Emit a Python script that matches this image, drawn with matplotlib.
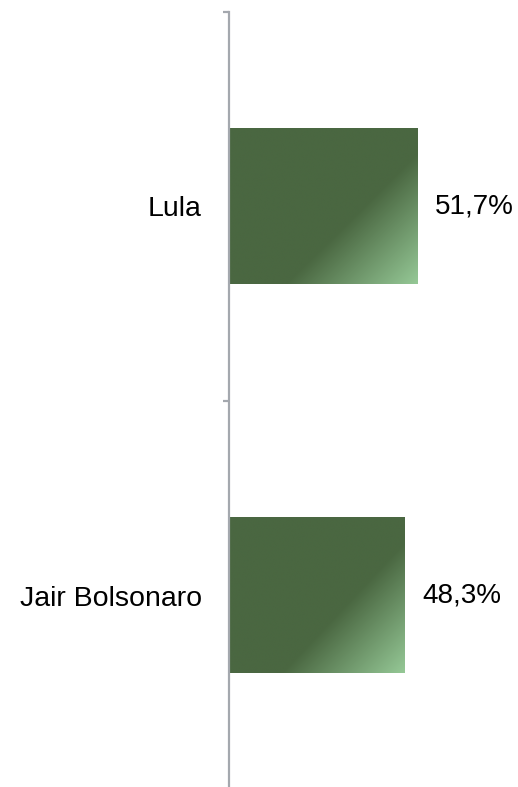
import numpy as np
import matplotlib
matplotlib.use('Agg')
import matplotlib.pyplot as plt
from matplotlib.colors import LinearSegmentedColormap

plt.rcParams['font.family'] = ['Liberation Sans', 'DejaVu Sans']

# data
candidates = ['Lula', 'Jair Bolsonaro']
votes = [51.7, 48.3]
value_labels = ['51,7%', '48,3%']

DARK = '#4a6741'
LIGHT = '#95c896'
AXIS_COL = '#a4a8ae'

fig = plt.figure(figsize=(5.18, 7.87), dpi=100)
ax = fig.add_axes([229 / 518, -3 / 787, 284 / 518, 778 / 787])

ypos = np.arange(len(candidates))
bar_h = 0.40

# diagonal gradient: flat dark green, then fades to light green at bottom-right
cmap = LinearSegmentedColormap.from_list('g', [(0, DARK), (0.62, DARK), (1, LIGHT)])
nx, ny = 300, 250
fx = np.linspace(0, 1, nx)[None, :]
fy = np.linspace(0, 1, ny)[:, None]
grad = (1.2 * fx + fy) / 2.2

for y, v, lab in zip(ypos, votes, value_labels):
    ax.imshow(grad, cmap=cmap, vmin=0, vmax=1, aspect='auto', interpolation='bilinear',
              extent=[0, v, y + bar_h / 2, y - bar_h / 2], zorder=2)
    ax.annotate(lab, (v, y), xytext=(12.5, 0), textcoords='offset points',
                ha='left', va='center', fontsize=20, color='black')

ax.set_xlim(0, 78)
ax.set_ylim(1.5, -0.5)

for s in ['top', 'right', 'bottom']:
    ax.spines[s].set_visible(False)
ax.spines['left'].set_color(AXIS_COL)
ax.spines['left'].set_linewidth(1.6)
ax.spines['left'].set_zorder(3)

ax.set_xticks([])
ax.set_yticks([-0.5, 0.5, 1.5])
ax.set_yticklabels([])
ax.tick_params(axis='y', which='major', length=4, width=1.6, color=AXIS_COL)
ax.set_yticks(ypos, minor=True)
ax.set_yticklabels(candidates, minor=True, fontsize=20.5)
ax.tick_params(axis='y', which='minor', length=0, pad=19.5)

fig.savefig('out.png', dpi=100)
